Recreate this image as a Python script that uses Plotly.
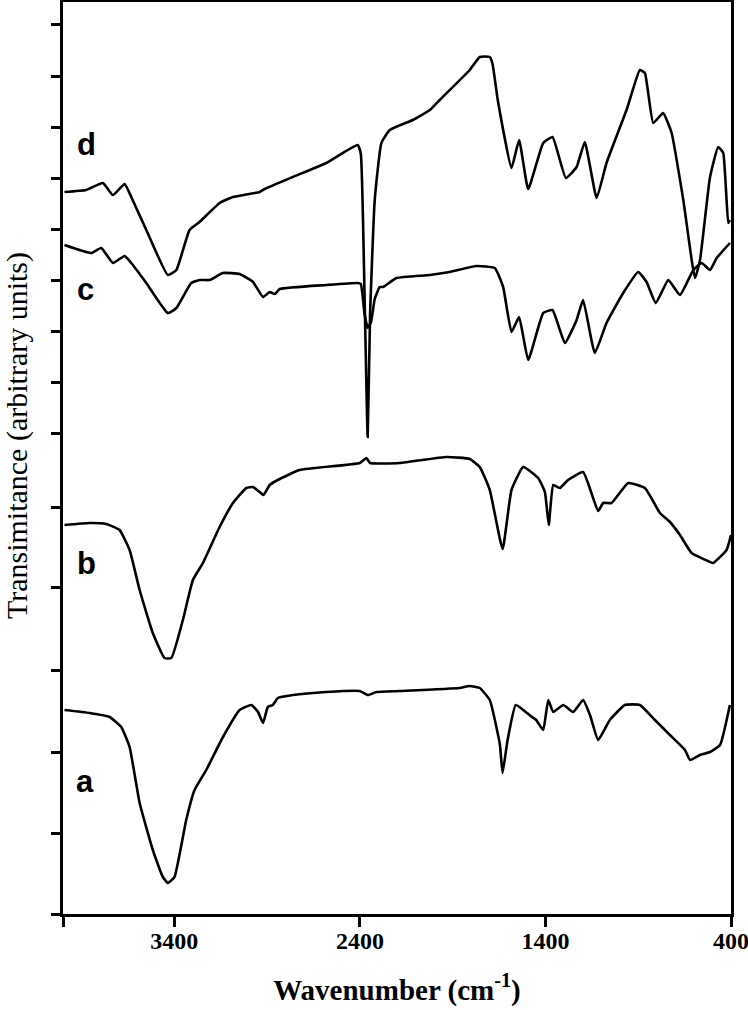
import plotly.graph_objects as go

# ---- data (wavenumber, cm-1) and transmittance (arbitrary units) ----
wn_a = [3992, 3857, 3749, 3686, 3641, 3587, 3516, 3462, 3435, 3399, 3336, 3291, 3228, 3138, 3048, 2985,
        2949, 2922, 2896, 2869, 2842, 2761, 2581, 2401, 2356, 2311, 2185, 1862, 1808, 1754, 1700, 1646,
        1631, 1604, 1560, 1506, 1480, 1450, 1412, 1385, 1358, 1304, 1250, 1197, 1160, 1116, 1053, 972,
        891, 810, 729, 648, 621, 567, 513, 459, 406]
t_a = [204, 201, 197, 187, 167, 111, 64, 37, 31, 37, 94, 124, 144, 177, 204, 209,
       202, 191, 207, 209, 216, 219, 222, 223, 219, 222, 223, 226, 228, 226, 214, 170,
       141, 174, 209, 202, 198, 194, 184, 214, 202, 209, 202, 214, 199, 174, 194, 209,
       209, 194, 179, 164, 154, 159, 162, 169, 209]

wn_b = [3992, 3857, 3767, 3695, 3641, 3587, 3516, 3453, 3416, 3354, 3300, 3246, 3156, 3084, 3012, 2976,
        2940, 2919, 2886, 2843, 2725, 2400, 2365, 2345, 2185, 1933, 1808, 1754, 1700, 1631, 1583, 1520,
        1439, 1403, 1382, 1358, 1322, 1278, 1197, 1116, 1089, 1044, 954, 864, 783, 729, 675, 612,
        513, 496, 424, 400]
t_b = [389, 391, 390, 384, 364, 324, 281, 256, 256, 294, 334, 351, 387, 411, 426, 427,
       422, 419, 429, 434, 444, 451, 456, 451, 451, 457, 455, 447, 424, 365, 424, 447,
       436, 422, 389, 429, 426, 434, 442, 403, 411, 411, 431, 426, 401, 392, 379, 361,
       352, 351, 364, 379]

wn_c = [3992, 3848, 3794, 3731, 3668, 3632, 3551, 3435, 3389, 3309, 3264, 3210, 3138, 3048, 2976, 2922,
        2886, 2859, 2832, 2581, 2412, 2395, 2375, 2358, 2340, 2320, 2293, 2275, 2203, 2023, 1916, 1772,
        1673, 1628, 1583, 1542, 1493, 1412, 1362, 1295, 1232, 1197, 1134, 1071, 981, 900, 855, 805,
        738, 675, 603, 558, 513, 477, 406]
t_c = [669, 661, 666, 651, 658, 651, 631, 601, 606, 631, 634, 634, 641, 640, 632, 617,
       622, 620, 625, 629, 631, 630, 600, 586, 592, 615, 627, 627, 636, 639, 642, 648,
       646, 627, 582, 597, 554, 601, 604, 571, 594, 614, 561, 591, 621, 642, 632, 611,
       634, 619, 644, 651, 644, 656, 671]

wn_d = [3992, 3875, 3785, 3731, 3668, 3632, 3551, 3435, 3389, 3318, 3264, 3156, 3084, 2940, 2913, 2762,
        2581, 2412, 2395, 2375, 2358, 2345, 2320, 2284, 2239, 2115, 2023, 1970, 1808, 1754, 1700, 1685,
        1657, 1583, 1542, 1493, 1412, 1362, 1290, 1232, 1188, 1124, 1071, 963, 891, 864, 819, 766,
        720, 657, 594, 567, 513, 469, 442, 415, 406]
t_d = [722, 724, 731, 719, 730, 717, 684, 639, 644, 684, 692, 711, 717, 722, 725, 737,
       751, 769, 760, 620, 477, 600, 714, 771, 784, 794, 804, 814, 844, 857, 857, 850,
       814, 746, 774, 725, 771, 777, 736, 747, 772, 716, 751, 804, 844, 841, 791, 801,
       781, 714, 636, 654, 737, 767, 761, 691, 694]

curve_names = ["a", "b", "c", "d"]
label_wn = [3880, 3875, 3879, 3875]
label_t = [133, 351, 625, 770]

x_tickvals = [3400, 2400, 1400, 400]
x_ticktext = ["3400", "2400", "1400", "400"]
x_edge_tick = [4000]
y_tickvals = [0, 81, 162, 244, 327, 407, 481, 532, 583, 634, 685, 736, 787, 838, 890]

fig = go.Figure()
for wn, t in [(wn_a, t_a), (wn_b, t_b), (wn_c, t_c), (wn_d, t_d)]:
    fig.add_trace(go.Scatter(x=wn, y=t, mode="lines",
                             line=dict(color="black", width=2.6, shape="spline", smoothing=0.4),
                             showlegend=False, hoverinfo="skip"))

for name, lx, ly in zip(curve_names, label_wn, label_t):
    fig.add_annotation(x=lx, y=ly, xref="x", yref="y", text="<b>%s</b>" % name, showarrow=False,
                       font=dict(family="Liberation Sans", size=31, color="black"))

fig.add_annotation(x=-0.069, y=0.525, xref="paper", yref="paper", xanchor="center", yanchor="middle",
                   text="Transimitance (arbitrary units)", textangle=-90, showarrow=False,
                   font=dict(family="Liberation Serif", size=30, color="black"))

fig.update_xaxes(range=[4000, 400], tickvals=x_tickvals, ticktext=x_ticktext, automargin=False,
                 ticklabeloverflow="allow", ticklabelstandoff=-7,
                 ticks="outside", ticklen=10, tickwidth=3, tickcolor="black",
                 minor=dict(tickvals=x_edge_tick, ticks="outside", ticklen=10, tickwidth=3,
                            tickcolor="black", showgrid=False),
                 showline=True, linewidth=3, linecolor="black", mirror=True,
                 showgrid=False, zeroline=False,
                 tickfont=dict(family="Liberation Serif", size=24, color="black", weight="bold"),
                 title=dict(text="<b>Wavenumber (cm<sup>-1</sup>)</b>", standoff=27,
                            font=dict(family="Liberation Serif", size=29, color="black")))
fig.update_yaxes(range=[0, 912], tickvals=y_tickvals, showticklabels=False, automargin=False,
                 ticks="outside", ticklen=9, tickwidth=2.5, tickcolor="black",
                 showline=True, linewidth=3, linecolor="black", mirror=True,
                 showgrid=False, zeroline=False)

fig.update_layout(width=748, height=1010, margin=dict(l=63, r=17, t=2, b=96),
                  plot_bgcolor="white", paper_bgcolor="white")

fig.write_html("out.html", config={"displayModeBar": False},
               post_script="document.body.style.margin='0';document.body.style.overflow='hidden';")
